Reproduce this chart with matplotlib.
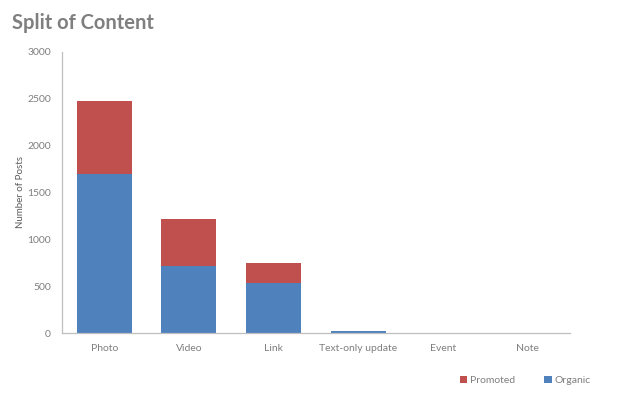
import matplotlib
matplotlib.use("Agg")
import matplotlib.pyplot as plt
import numpy as np

categories = ["Photo", "Video", "Link", "Text-only update", "Event", "Note"]
organic = [1700, 715, 535, 20, 0, 0]
promoted = [780, 505, 215, 5, 0, 0]
yticks = [0, 500, 1000, 1500, 2000, 2500, 3000]

plt.rcParams['font.family'] = ['Lato', 'DejaVu Sans']

fig = plt.figure(figsize=(6.2, 3.96), dpi=100)
ax = fig.add_axes([0.1, 0.159, 0.819, 0.71])

x = np.arange(len(categories))
blue = "#4F81BD"
red = "#C0504D"
ax.bar(x, organic, width=0.65, color=blue, label="Organic")
ax.bar(x, promoted, width=0.65, bottom=organic, color=red, label="Promoted")

ax.set_xlim(-0.5, len(categories) - 0.5)
ax.set_ylim(0, 3000)
ax.set_yticks(yticks)
ax.set_xticks(x)
ax.set_xticklabels(categories)
ax.tick_params(length=0, labelsize=7.5, colors="#7f7f7f", pad=8)
ax.tick_params(axis='y', pad=8)
for s in ["top", "right"]:
    ax.spines[s].set_visible(False)
for s in ["left", "bottom"]:
    ax.spines[s].set_color("#bfbfbf")
    ax.spines[s].set_linewidth(0.9)

ax.set_ylabel("Number of Posts", fontsize=7, color="#595959")
ax.yaxis.set_label_coords(-0.073, 0.5)

fig.text(0.019, 0.942, "Split of Content", fontsize=14.5, fontweight="bold",
         color="#7f7f7f", va="center", ha="left")

handles, labels = ax.get_legend_handles_labels()
leg = fig.legend(handles[::-1], labels[::-1], loc="center", bbox_to_anchor=(0.847, 0.04),
                 ncol=2, frameon=False, fontsize=7.5, handlelength=0.7, handleheight=0.7,
                 handletextpad=0.3, columnspacing=2.8)
for t in leg.get_texts():
    t.set_color("#7f7f7f")

fig.savefig("out.png", dpi=100)
